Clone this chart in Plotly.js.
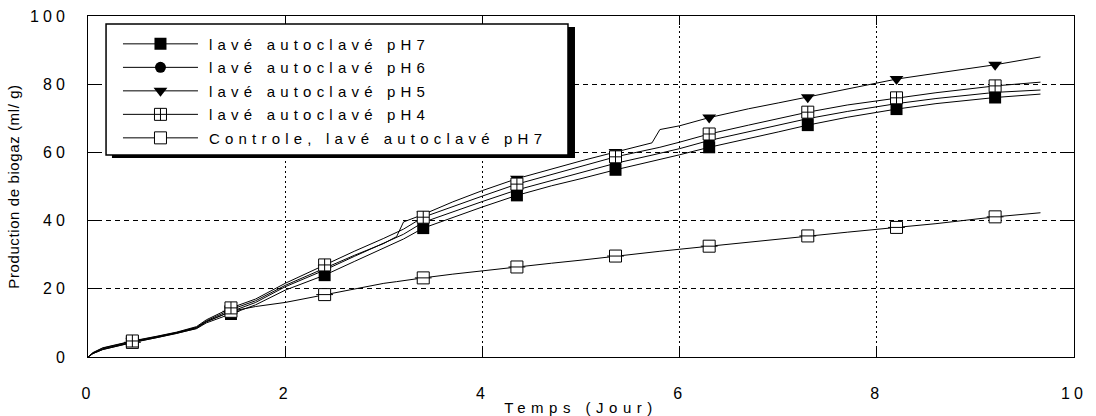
<!DOCTYPE html>
<html>
<head>
<meta charset="utf-8">
<script src="https://cdn.plot.ly/plotly-3.0.1.min.js"></script>
<style>
  html, body { margin: 0; padding: 0; background: #fff; }
  #chart { width: 1096px; height: 416px; }
  .legendtext { letter-spacing: 5.2px !important; transform: translate(6px, 0); }
  .xtick text, .ytick text, text.xtick, text.ytick { letter-spacing: 4px !important; }
  .xtitle { letter-spacing: 5.5px !important; }
  .ytitle { letter-spacing: 0.6px !important; }
</style>
</head>
<body>
<div id="chart"></div>
<script>
// ---- data ----
const days = [0, 0.05, 0.15, 0.3, 0.45, 0.7, 0.9, 1.1, 1.2, 1.45, 1.7, 2.0, 2.4, 2.7, 3.0, 3.13, 3.2, 3.4, 3.7, 4.0, 4.35, 4.7, 5.0, 5.35, 5.72, 5.8, 6.0, 6.3, 6.7, 7.0, 7.3, 7.7, 8.2, 8.6, 9.2, 9.66];
const pH7 = [0, 1.0, 2.2, 3.3, 4.2, 5.7, 6.9, 8.3, 10.0, 12.6, 15.3, 19.6, 24.0, 28.0, 32.0, 33.6, 34.6, 37.8, 41.0, 44.0, 47.4, 50.2, 52.3, 54.9, 57.4, 57.9, 59.3, 61.5, 64.0, 66.0, 68.0, 70.3, 72.7, 74.3, 76.1, 77.1];
const pH6 = [0, 1.1, 2.4, 3.5, 4.4, 5.9, 7.1, 8.6, 10.4, 13.3, 16.0, 20.6, 25.5, 29.5, 33.4, 35.0, 36.0, 39.5, 42.6, 45.6, 49.0, 51.8, 54.0, 56.8, 59.2, 59.7, 61.1, 63.5, 66.0, 68.0, 69.9, 72.0, 74.3, 75.8, 77.6, 78.3];
const pH5 = [0, 1.2, 2.6, 3.6, 4.6, 6.0, 7.2, 8.7, 10.6, 13.9, 16.5, 21.0, 26.0, 29.8, 33.3, 35.3, 39.6, 41.8, 45.5, 48.8, 52.3, 55.2, 57.5, 60.1, 62.8, 66.7, 67.8, 70.2, 72.8, 74.5, 76.2, 78.5, 81.5, 83.2, 85.7, 88.0];
const pH4 = [0, 1.3, 2.7, 3.8, 4.7, 6.1, 7.3, 8.9, 10.9, 14.4, 17.0, 21.6, 27.0, 31.0, 34.8, 36.5, 37.5, 41.0, 44.2, 47.2, 50.7, 53.5, 55.8, 58.7, 61.0, 61.5, 63.0, 65.4, 68.0, 70.0, 71.8, 73.9, 76.0, 77.5, 79.5, 80.6];
const control = [0, 1.0, 2.2, 3.3, 4.3, 5.7, 6.9, 8.4, 10.3, 13.4, 14.8, 16.0, 18.3, 20.1, 21.6, 22.1, 22.4, 23.2, 24.3, 25.3, 26.4, 27.5, 28.4, 29.6, 30.8, 31.0, 31.6, 32.5, 33.8, 34.6, 35.5, 36.6, 38.0, 39.1, 41.1, 42.3];
const markDays = [0.45, 1.45, 2.4, 3.4, 4.35, 5.35, 6.3, 7.3, 8.2, 9.2];

const seriesNames = ['lavé autoclavé pH7', 'lavé autoclavé pH6', 'lavé autoclavé pH5', 'lavé autoclavé pH4', 'Controle, lavé autoclavé pH7'];
const xTickVals = [0, 2, 4, 6, 8, 10];
const xTickText = ['0', '2', '4', '6', '8', '10'];
const yTickVals = [0, 20, 40, 60, 80, 100];
const yTickText = ['0', '20', '40', '60', '80', '100'];

// ---- build traces ----
const FONT = '"Liberation Sans", Arial, sans-serif';
const series = [
  {name: seriesNames[0], y: pH7,     marker: {symbol: 'square', size: 12, color: '#000', line: {width: 0}}},
  {name: seriesNames[1], y: pH6,     marker: {symbol: 'circle', size: 11, color: '#000', line: {width: 0}}},
  {name: seriesNames[2], y: pH5,     marker: {symbol: 'triangle-down', size: 12, color: '#000', line: {width: 0}}},
  {name: seriesNames[3], y: pH4,     marker: {symbol: 'square-cross', size: 12, color: '#fff', line: {width: 1, color: '#000'}}},
  {name: seriesNames[4], y: control, marker: {symbol: 'square', size: 12, color: '#fff', line: {width: 1, color: '#000'}}}
];

function markerPoints(yArr) {
  const xs = [], ys = [];
  days.forEach((d, i) => { if (markDays.includes(d)) { xs.push(d); ys.push(yArr[i]); } });
  return {xs, ys};
}

const traces = [];
// lines
series.forEach((s, k) => {
  traces.push({x: days, y: s.y, type: 'scatter', mode: 'lines', line: {color: '#000', width: 1},
    showlegend: false, hoverinfo: 'skip', legendgroup: 'g' + k});
});
// markers (drawn in stacking order: pH6, pH5, pH7, control, pH4 on top)
[1, 2, 0, 4, 3].forEach(k => {
  const s = series[k];
  const p = markerPoints(s.y);
  traces.push({x: p.xs, y: p.ys, type: 'scatter', mode: 'markers', marker: s.marker,
    showlegend: false, legendgroup: 'g' + k});
  if (k === 4) {
    traces.push({x: p.xs, y: p.ys, type: 'scatter', mode: 'markers',
      marker: {symbol: 'line-ew', size: 12, line: {width: 1, color: '#000'}},
      showlegend: false, legendgroup: 'g' + k});
  }
});
// legend entries
series.forEach((s, k) => {
  traces.push({x: [null], y: [null], type: 'scatter', mode: 'lines+markers', name: s.name,
    line: {color: '#000', width: 1}, marker: s.marker, legendgroup: 'g' + k, showlegend: true});
});

const layout = {
  width: 1096, height: 416,
  margin: {l: 88, r: 22, t: 16, b: 59},
  paper_bgcolor: '#fff', plot_bgcolor: '#fff',
  font: {family: FONT, color: '#000', size: 15},
  showlegend: true,
  legend: {
    x: 0.0304, xanchor: 'left', y: 0.966, yanchor: 'top',
    bgcolor: 'rgba(0,0,0,0)', borderwidth: 0,
    font: {family: FONT, size: 15, color: '#000'},
    itemwidth: 75, tracegroupgap: 1, traceorder: 'grouped', itemclick: false
  },
  xaxis: {
    range: [0, 10], tickvals: xTickVals, ticktext: xTickText,
    ticks: 'inside', ticklen: 9, tickcolor: '#000', tickwidth: 1,
    showline: true, linecolor: '#000', linewidth: 1, mirror: 'ticks',
    showgrid: true, gridcolor: '#000', gridwidth: 1, griddash: '2px,3px',
    zeroline: false, ticklabelstandoff: 22,
    tickfont: {family: FONT, size: 16, color: '#000'},
    title: {text: 'Temps (Jour)', font: {family: FONT, size: 15, color: '#000'}, standoff: 2}
  },
  yaxis: {
    range: [0, 100], tickvals: yTickVals, ticktext: yTickText,
    ticks: 'inside', ticklen: 9, tickcolor: '#000', tickwidth: 1,
    showline: true, linecolor: '#000', linewidth: 1, mirror: 'ticks',
    showgrid: true, gridcolor: '#000', gridwidth: 1, griddash: '5px,4px',
    zeroline: false, ticklabelstandoff: 15,
    tickfont: {family: FONT, size: 16, color: '#000'},
    title: {text: 'Production de biogaz (ml/ g)', font: {family: FONT, size: 15, color: '#000'}, standoff: 6}
  },
  shapes: [
    {type: 'rect', xref: 'paper', yref: 'paper', layer: 'above',
      x0: 0.0243, x1: 0.4939, y0: 0.5836, y1: 0.9677,
      fillcolor: '#000', line: {width: 0}},
    {type: 'rect', xref: 'paper', yref: 'paper', layer: 'above',
      x0: 0.0183, x1: 0.4868, y0: 0.5924, y1: 0.9765,
      fillcolor: '#fff', line: {width: 1.5, color: '#000'}}
  ]
};

Plotly.newPlot('chart', traces, layout, {displayModeBar: false, staticPlot: true});
</script>
</body>
</html>
